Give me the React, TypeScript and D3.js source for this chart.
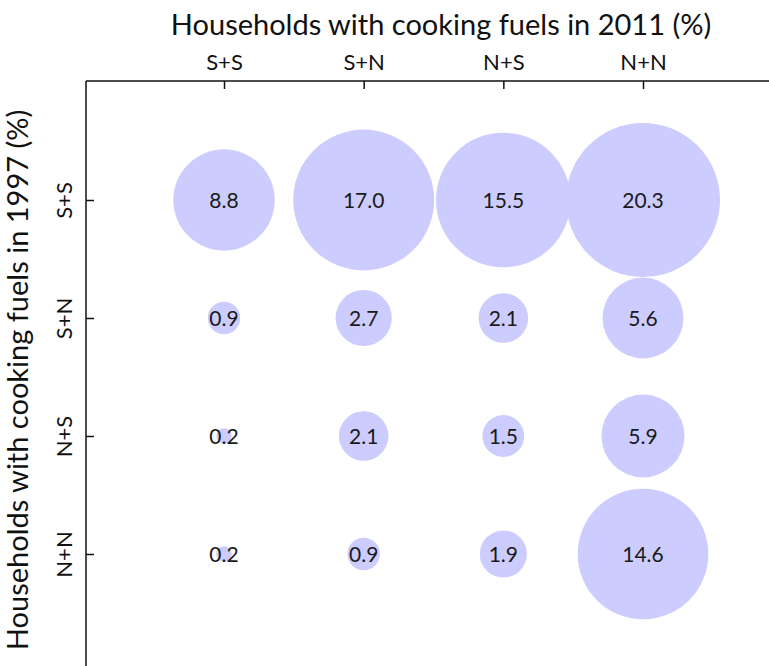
import React, { useEffect, useRef } from 'react';
import * as d3 from 'd3';

const fuels2011 = ['S+S', 'S+N', 'N+S', 'N+N'];
const fuels1997 = ['S+S', 'S+N', 'N+S', 'N+N'];
// rows = 1997 category, columns = 2011 category
const rowSS = [8.8, 17.0, 15.5, 20.3];
const rowSN = [0.9, 2.7, 2.1, 5.6];
const rowNS = [0.2, 2.1, 1.5, 5.9];
const rowNN = [0.2, 0.9, 1.9, 14.6];
const rows = [rowSS, rowSN, rowNS, rowNN];

const W = 769;
const H = 666;
const FONT = 'Lato, "Open Sans", sans-serif';

export default function App() {
  const ref = useRef<SVGSVGElement>(null);

  useEffect(() => {
    if (!ref.current) return;
    const svg = d3.select(ref.current);
    svg.selectAll('*').remove();

    const left = 86;
    const top = 81;

    const x = d3.scalePoint<string>().domain(fuels2011).range([224, 643]);
    const y = d3.scalePoint<string>().domain(fuels1997).range([200, 554]);
    const r = d3.scaleSqrt().domain([0, 20.3]).range([0, 77]);

    const cells = rows.flatMap((vals, i) =>
      vals.map((v, j) => ({ row: fuels1997[i], col: fuels2011[j], v }))
    );

    // bubbles
    svg.append('g')
      .selectAll('circle')
      .data(cells)
      .join('circle')
      .attr('cx', d => x(d.col)!)
      .attr('cy', d => y(d.row)!)
      .attr('r', d => r(d.v))
      .attr('fill', '#ccccff');

    svg.append('g')
      .selectAll('text')
      .data(cells)
      .join('text')
      .attr('x', d => x(d.col)!)
      .attr('y', d => y(d.row)!)
      .attr('dy', '0.36em')
      .attr('text-anchor', 'middle')
      .style('font-family', FONT)
      .style('font-size', '21px')
      .attr('fill', '#1a1a1a')
      .text(d => d.v.toFixed(1));

    // top axis
    const xAxis = svg.append('g')
      .attr('transform', `translate(0,${top})`)
      .call(d3.axisTop(x).tickSizeInner(-8).tickSizeOuter(0).tickPadding(11));
    xAxis.select('.domain').remove();
    xAxis.selectAll('text').style('font-family', FONT).style('font-size', '22px').attr('fill', '#111');
    xAxis.selectAll('line').attr('stroke', '#111').attr('stroke-width', 1.5);

    // left axis
    const yAxis = svg.append('g')
      .attr('transform', `translate(${left},0)`)
      .call(d3.axisLeft(y).tickSizeInner(-8).tickSizeOuter(0).tickPadding(0));
    yAxis.select('.domain').remove();
    yAxis.selectAll('line').attr('stroke', '#111').attr('stroke-width', 1.5);
    yAxis.selectAll('text')
      .attr('x', null)
      .attr('dy', null)
      .attr('text-anchor', 'middle')
      .attr('transform', 'translate(-14,0) rotate(-90)')
      .style('font-family', FONT)
      .style('font-size', '22px')
      .attr('fill', '#111');

    svg.append('line')
      .attr('x1', left).attr('x2', W).attr('y1', top).attr('y2', top)
      .attr('stroke', '#111').attr('stroke-width', 1.5);
    svg.append('line')
      .attr('x1', left).attr('x2', left).attr('y1', top).attr('y2', H)
      .attr('stroke', '#111').attr('stroke-width', 1.5);

    svg.append('text')
      .attr('x', 441)
      .attr('y', 35)
      .attr('text-anchor', 'middle')
      .style('font-family', FONT)
      .style('font-size', '29px')
      .attr('fill', '#111')
      .text('Households with cooking fuels in 2011 (%)');

    svg.append('text')
      .attr('transform', `translate(28,${380}) rotate(-90)`)
      .attr('text-anchor', 'middle')
      .style('font-family', FONT)
      .style('font-size', '29px')
      .attr('fill', '#111')
      .text('Households with cooking fuels in 1997 (%)');
  }, []);

  return (
    <svg
      ref={ref}
      width={W}
      height={H}
      style={{ position: 'absolute', left: 0, top: 0, background: '#fff' }}
    />
  );
}
